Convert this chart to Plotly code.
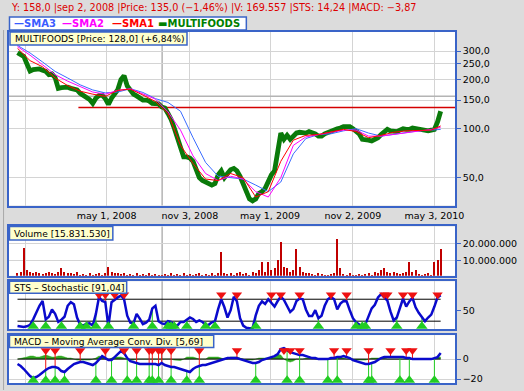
import math
import pandas as pd
import plotly.graph_objects as go
from plotly.subplots import make_subplots

# ---------------- data (weekly samples) ----------------
start_date = "2007-10-15"
n_weeks = 136

price = [293, 285, 278, 250, 226, 231, 233, 233, 229, 225,
         215, 217, 206, 177, 179, 181, 180, 177, 175, 173,
         165, 160, 156, 151, 143, 154, 160, 161, 153, 141,
         154, 162, 174, 200, 212, 183, 173, 163, 159, 155,
         150, 150, 148, 143, 142, 142, 136, 134, 124, 114,
         101, 88, 78, 67, 67, 66, 63, 55, 50, 48,
         47, 46, 45, 46, 52, 55, 50, 53, 56, 57,
         55, 51, 46, 41, 37, 36, 37, 40, 41, 43,
         48, 52, 55, 75, 94, 86, 91, 86, 90, 94,
         95, 94, 94, 96, 95, 93, 90, 90, 93, 95,
         97, 98, 100, 101, 103, 103, 103, 100, 97, 93,
         86, 86, 85, 84, 86, 88, 92, 96, 99, 97,
         97, 96, 98, 100, 99, 99, 101, 100, 99, 99,
         98, 97, 98, 99, 110, 128]

# moving averages, read every 4th week (+ last week)
sma_step = 4
sma1 = [312, 262, 240, 205, 184, 170, 163, 158, 172, 175, 161, 147, 124, 79, 61, 49, 48, 53, 50, 38,
        41, 63, 85, 91, 92, 95, 99, 96, 88, 91, 95, 97, 97, 98, 104]
sma2 = [320, 283, 247, 215, 196, 181, 168, 163, 172, 176, 163, 152, 127, 98, 68, 53, 48, 51, 49, 41,
        38, 50, 79, 89, 92, 95, 98, 98, 90, 90, 92, 95, 97, 99, 102]
sma3 = [325, 292, 257, 225, 205, 186, 173, 166, 168, 176, 167, 153, 145, 128, 88, 62, 51, 50, 49, 45,
        41, 47, 70, 87, 92, 93, 97, 100, 94, 90, 92, 94, 97, 98, 99]

volume_m = [2, 3, 17, 4, 3, 2, 3, 2, 1.5, 2, 3, 2, 1.5, 3, 5, 3, 2, 2, 1.5, 3,
            1, 1.5, 1, 2, 1, 1.5, 2, 1, 2, 6, 3, 2, 2, 1.5, 2, 1, 1.5, 1, 2, 1,
            1.5, 1, 2, 1, 1.5, 1, 1, 1.5, 1, 2, 1, 1.5, 1, 2, 1, 1.5, 1, 1.5, 2, 1,
            1.5, 1, 2, 1, 2, 14.7, 2, 1.5, 2, 1, 2, 3, 1.5, 2, 1, 3, 2, 4, 8.7, 3,
            9, 4, 5, 10, 20.7, 6, 5, 3, 4, 16.5, 6, 3, 2, 2, 1.5, 1, 2, 1.5, 1, 1,
            1.5, 2, 22.5, 5, 1.5, 1, 2, 1, 1, 1.5, 1, 1.5, 2, 1, 3, 2, 4, 5, 3, 2,
            3, 2, 1.5, 2, 3, 8.7, 3, 4, 1.5, 1, 1.5, 2, 1, 9, 10, 16.5]

sts = [7, 5, 4, 6, 10, 25, 44, 62, 75, 25,
       32, 52, 40, 18, 24, 32, 62, 72, 66, 30,
       10, 8, 13, 14, 8, 40, 86, 75, 72, 6,
       72, 79, 85, 90, 80, 35, 16, 14, 40, 27,
       12, 16, 24, 55, 62, 20, 14, 12, 20, 18,
       8, 8, 18, 18, 24, 30, 26, 18, 22, 18,
       9, 10, 17, 20, 53, 80, 58, 30, 50, 87,
       74, 28, 8, 2, 1, 1, 36, 62, 74, 67,
       80, 70, 60, 75, 87, 78, 61, 45, 53, 75,
       82, 80, 52, 34, 34, 50, 28, 35, 62, 80,
       86, 80, 52, 68, 75, 74, 50, 28, 17, 10,
       5, 12, 33, 55, 65, 85, 94, 84, 76, 46,
       22, 30, 55, 82, 60, 74, 84, 58, 43, 32,
       20, 30, 38, 60, 85, 91]

macd = [-5, -7, -10, -14, -17, -19, -18, -16, -13, -11,
        -9, -8, -8, -9, -12, -13, -10, -7, -5, -4,
        -3, -3, -4, -5, -6, -4, 0, 3, 1, -1,
        -1, 2, 4, 8, 6, 1, -2, -3, -4, -5,
        -5, -5, -5, -5, -5, -6, -4, -6, -7, -8,
        -8, -9, -10, -11, -12, -13, -10, -8, -7, -6,
        -6, -5, -4, -3, -2, -1, 0, 1, 1, 1,
        1, 0, -1, -2, -3, -4, -4, -3, -1, 0,
        1, 2, 3, 5, 10, 11, 9, 7, 6, 5,
        4, 4, 3, 2, 1, 1, 0, 0, 0, 0,
        1, 1, 2, 2, 3, 2, 1, -1, -2, -3,
        -4, -5, -5, -4, -3, -1, 1, 2, 2, 2,
        2, 2, 2, 2, 1, 1, 0, 0, 0, 0,
        0, 0, 0, 1, 2, 6]

macd_hist = [0, 0.5, 1, 2, 3, 3, 2, 2, 3, 4, 3, 2, 2, 3, 3, 2, 1,
             1, 0, -1, -1, -1, -1, -1, 0, 1,
             3, 2, 0, -1,
             1, 2, 2, 2, 1,
             0, -1, -1, 0, 0, 0, 0, 0, 0, 0, 0, 0, 0, 0, 0, -1,
             -1.5, -1.5, 0,
             2, 2, 2, 1, 0,
             0, 0,
             2, 2, 2, 2, 1,
             0, 0,
             2, 2, 2, 1,
             0, -1, -1, -1, 0,
             1, 1, 1, 1,
             1, 2,
             5, 4, 0,
             -2, -3, -2,
             0, 0, 0,
             1, 1, 1,
             0, 0, 0, 0, 0, 0, 1,
             1, 1, 1, 0,
             0, -1, -1, -1, -1, -1, 0,
             1, 1, 1,
             1, 1, 0, 0, 0, 0, 0, 0, 0, 0, 0, 0, 0, 0, 0, 0, 0, 1, 2, 2]

# signal weeks (indices into the weekly series)
sts_sell = [26, 28, 31, 34, 65, 70, 81, 84, 90, 100, 105, 117, 118, 123, 126, 134]
sts_buy = [5, 9, 14, 20, 22, 25, 29, 37, 43, 48, 49, 50, 54, 60, 63, 76, 96, 108, 110, 111, 121, 129]
macd_sell = [9, 12, 20, 28, 34, 38, 42, 43, 45, 46, 49, 58, 70, 85, 87, 90, 101, 105, 112, 119, 124, 126]
macd_buy = [5, 9, 12, 15, 25, 30, 35, 38, 42, 43, 45, 49, 54, 58, 76, 86, 90, 99, 102, 112, 113, 122, 125, 133]

price_ticks = [50, 100, 150, 200, 250, 300]
price_tick_labels = ["50,0", "100,0", "150,0", "200,0", "250,0", "300,0"]
vol_ticks = [10, 20]
vol_tick_labels = ["10.000.000", "20.000.000"]
sts_ticks = [50]
sts_tick_labels = ["50"]
macd_ticks = [-20, 0]
macd_tick_labels = ["\u221220", "0"]
date_ticks = ["2007-11-01", "2008-05-01", "2008-11-03", "2009-05-01", "2009-11-02", "2010-05-03"]
date_tick_labels = ["", "may 1, 2008", "nov 3, 2008", "may 1, 2009", "nov 2, 2009", "may 3, 2010"]
sts_levels = [20, 80]
cursor_date = "2008-09-02"
cursor_price = 158
support_price = 135
support_start = "2008-02-28"

header_text = "Y: 158,0 |sep 2, 2008 |Price: 135,0 (\u22121,46%) |V: 169.557 |STS: 14,24 |MACD: \u22123,87"
panel_titles = ["MULTIFOODS [Price: 128,0] (+6,84%)", "Volume [15.831.530]",
                "STS \u2013 Stochastic [91,04]", "MACD \u2013 Moving Average Conv. Div. [5,69]"]
legend_items = [("\u2014SMA3", "#3a5cff"), ("\u2014SMA2", "#ff00ff"),
                ("\u2014SMA1", "#ff0000"), ("\u25acMULTIFOODS", "#008000")]

assert len(price) == n_weeks and len(sts) == n_weeks and len(macd) == n_weeks
assert len(volume_m) == n_weeks and len(macd_hist) == n_weeks

# ---------------- layout helpers ----------------
W, H = 524, 391
ML, MR, MT, MB = 8, 65, 32, 7
PW = W - ML - MR
PH = H - MT - MB


def px(xp):
    return (xp - ML) / PW


def py(yp):
    return (H - MB - yp) / PH


FONT = "DejaVu Sans"
BORDER = "#3a64c8"
GRID = "#d4d4d4"
BG = "#dcdcdc"
x_range = ["2007-09-26", "2010-06-18"]

dates = pd.date_range(start_date, periods=n_weeks, freq="7D")
sma_idx = list(range(0, n_weeks, sma_step)) + [n_weeks - 1]
sma_dates = [dates[i] for i in sma_idx]

fig = make_subplots(rows=4, cols=1, shared_xaxes=True, vertical_spacing=0.02)

# ---- main price panel ----
fig.add_trace(go.Scatter(x=[support_start, x_range[1]], y=[support_price, support_price],
                         mode="lines", line=dict(color="#d40000", width=1.3)), row=1, col=1)
fig.add_trace(go.Scatter(x=x_range, y=[cursor_price, cursor_price], mode="lines",
                         line=dict(color="#b4b4b4", width=1.5)), row=1, col=1)
fig.add_trace(go.Scatter(x=dates, y=price, mode="lines",
                         line=dict(color="#0a7a0a", width=4.8)), row=1, col=1)
fig.add_trace(go.Scatter(x=sma_dates, y=sma3, mode="lines",
                         line=dict(color="#3a6cff", width=1)), row=1, col=1)
fig.add_trace(go.Scatter(x=sma_dates, y=sma2, mode="lines",
                         line=dict(color="#ff00ff", width=1)), row=1, col=1)
fig.add_trace(go.Scatter(x=sma_dates, y=sma1, mode="lines",
                         line=dict(color="#ff0000", width=1)), row=1, col=1)

# ---- volume panel ----
fig.add_trace(go.Bar(x=dates, y=volume_m, marker=dict(color="#c00000", line=dict(width=0)),
                     width=2.4 * 86400000), row=2, col=1)


def stems(idx, level, series):
    xs, ys = [], []
    for i in idx:
        xs += [dates[i], dates[i], None]
        ys += [level, series[i], None]
    return xs, ys


RED = "#ee1111"
GREEN = "#22cc22"

# ---- stochastic panel ----
for lv in sts_levels:
    fig.add_trace(go.Scatter(x=[dates[0], dates[-1]], y=[lv, lv], mode="lines",
                             line=dict(color="black", width=1)), row=3, col=1)
STS_TOP, STS_BOT = 92.3, 6.4
sx, sy = stems(sts_sell, STS_TOP, sts)
fig.add_trace(go.Scatter(x=sx, y=sy, mode="lines", line=dict(color=RED, width=1)), row=3, col=1)
bx, by = stems(sts_buy, STS_BOT, sts)
fig.add_trace(go.Scatter(x=bx, y=by, mode="lines", line=dict(color=GREEN, width=1)), row=3, col=1)
fig.add_trace(go.Scatter(x=dates, y=sts, mode="lines", line=dict(color="#0a0acc", width=2.5)),
              row=3, col=1)
fig.add_trace(go.Scatter(x=[dates[i] for i in sts_sell], y=[STS_TOP] * len(sts_sell), mode="markers",
                         marker=dict(symbol="triangle-down", size=9, color=RED)), row=3, col=1)
fig.add_trace(go.Scatter(x=[dates[i] for i in sts_buy], y=[STS_BOT] * len(sts_buy), mode="markers",
                         marker=dict(symbol="triangle-up", size=10, color=GREEN)), row=3, col=1)

# ---- MACD panel ----
fig.add_trace(go.Scatter(x=dates, y=macd_hist, mode="lines", fill="tozeroy",
                         fillcolor="#33aa22", line=dict(color="#33aa22", width=0.5)), row=4, col=1)
fig.add_trace(go.Scatter(x=[dates[0], dates[-1]], y=[0, 0], mode="lines",
                         line=dict(color="black", width=1)), row=4, col=1)
M_TOP, M_BOT = 8.5, -21.3
sx, sy = stems(macd_sell, M_TOP, macd)
fig.add_trace(go.Scatter(x=sx, y=sy, mode="lines", line=dict(color=RED, width=1)), row=4, col=1)
bx, by = stems(macd_buy, M_BOT, macd)
fig.add_trace(go.Scatter(x=bx, y=by, mode="lines", line=dict(color=GREEN, width=1)), row=4, col=1)
fig.add_trace(go.Scatter(x=dates, y=macd, mode="lines", line=dict(color="#0a0acc", width=2.5)),
              row=4, col=1)
fig.add_trace(go.Scatter(x=[dates[i] for i in macd_sell], y=[M_TOP] * len(macd_sell), mode="markers",
                         marker=dict(symbol="triangle-down", size=9, color=RED)), row=4, col=1)
fig.add_trace(go.Scatter(x=[dates[i] for i in macd_buy], y=[M_BOT] * len(macd_buy), mode="markers",
                         marker=dict(symbol="triangle-up", size=10, color=GREEN)), row=4, col=1)

# ---------------- axes ----------------
domains = [(py(206), py(32)), (py(276.5), py(227)), (py(330), py(282)), (py(384), py(336))]
tickfont = dict(family=FONT, size=9.5, color="black")
for r in range(1, 5):
    fig.update_xaxes(row=r, col=1, type="date", range=x_range, tickvals=date_ticks,
                     ticktext=date_tick_labels, showgrid=True, gridcolor=GRID, gridwidth=1,
                     showline=True, mirror=True, linecolor=BORDER, linewidth=1.5,
                     ticks="", showticklabels=(r == 1), tickfont=tickfont, zeroline=False)
fig.update_yaxes(row=1, col=1, type="log", range=[math.log10(33.7), math.log10(393)],
                 tickvals=price_ticks, ticktext=price_tick_labels)
fig.update_yaxes(row=2, col=1, range=[0.8, 30.2], tickvals=vol_ticks, ticktext=vol_tick_labels)
fig.update_yaxes(row=3, col=1, range=[-1.8, 129], tickvals=sts_ticks, ticktext=sts_tick_labels,
                 showgrid=False)
fig.update_yaxes(row=4, col=1, range=[-24, 24], tickvals=macd_ticks, ticktext=macd_tick_labels)
for r in range(1, 5):
    fig.update_yaxes(row=r, col=1, side="right", domain=list(domains[r - 1]),
                     gridcolor=GRID, gridwidth=1, zeroline=False,
                     showline=True, mirror=True, linecolor=BORDER, linewidth=1.5,
                     ticks="outside", ticklen=4, tickcolor=BORDER, tickfont=tickfont)

# ---------------- shapes & annotations ----------------
shapes = []
for r in range(1, 5):
    xr = "x" if r == 1 else f"x{r}"
    yr = "y domain" if r == 1 else f"y{r} domain"
    shapes.append(dict(type="line", xref=xr, yref=yr, x0=cursor_date, x1=cursor_date, y0=0, y1=1,
                       line=dict(color="#b4b4b4", width=1.5), layer="below"))
# window frame line on the left
shapes.append(dict(type="line", xref="paper", yref="paper", x0=px(2.5), x1=px(2.5), y0=py(30), y1=py(391),
                   line=dict(color="#a8a8a8", width=1)))
# legend box
shapes.append(dict(type="rect", xref="paper", yref="paper", x0=px(8.5), x1=px(248), y0=py(30), y1=py(17),
                   fillcolor="white", line=dict(color=BORDER, width=1.5)))

annotations = [dict(xref="paper", yref="paper", x=px(8.5), y=py(8), xanchor="left", yanchor="middle",
                    text=header_text, showarrow=False,
                    font=dict(family=FONT, size=9.7, color="#dd0000"))]
legend_x = [11, 60, 110, 157]
for (txt, col), lx in zip(legend_items, legend_x):
    annotations.append(dict(xref="paper", yref="paper", x=px(lx), y=py(23.5), xanchor="left",
                            yanchor="middle", text="<b>" + txt + "</b>", showarrow=False,
                            font=dict(family=FONT, size=10, color=col)))

boxes = [(9, 188, 32, 45), (8.5, 113, 227, 240.5), (8.5, 127, 282, 294), (8.5, 215, 336, 348.5)]
for title, (x0, x1, y0, y1) in zip(panel_titles, boxes):
    shapes.append(dict(type="rect", xref="paper", yref="paper", x0=px(x0), x1=px(x1), y0=py(y1), y1=py(y0),
                       fillcolor="#ffffcc", line=dict(color=BORDER, width=1.5)))
    annotations.append(dict(xref="paper", yref="paper", x=px(x0 + 3), y=py((y0 + y1) / 2 + 0.5),
                            xanchor="left", yanchor="middle", text=title, showarrow=False,
                            font=dict(family=FONT, size=9.1, color="black")))

fig.update_layout(width=W, height=H, margin=dict(l=ML, r=MR, t=MT, b=MB),
                  paper_bgcolor=BG, plot_bgcolor="white", showlegend=False,
                  bargap=0, shapes=shapes, annotations=annotations,
                  font=dict(family=FONT, size=9.5, color="black"))

fig.write_html("out.html")
